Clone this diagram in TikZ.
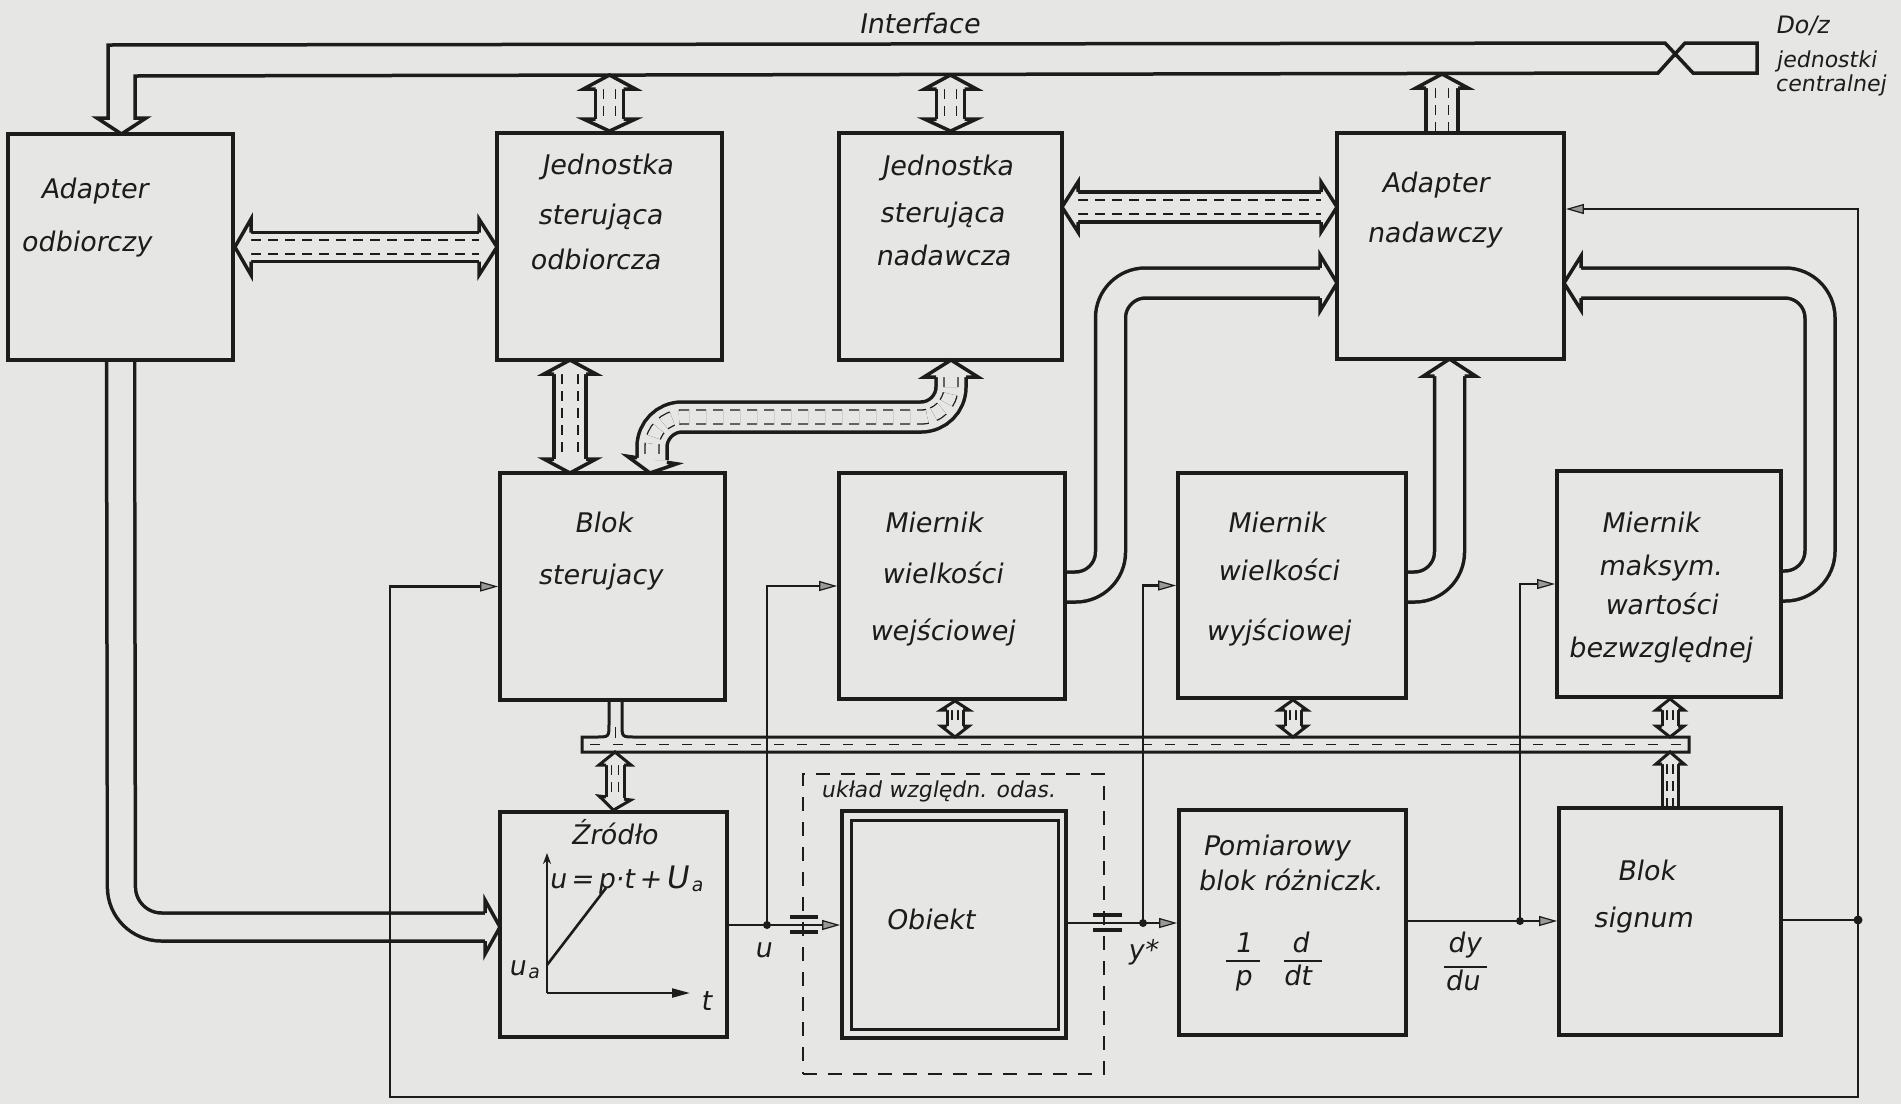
\documentclass[tikz,border=0pt]{standalone}
\usepackage{fontspec}
\setmainfont{DejaVu Sans}
\newfontfamily\hand{DejaVu Sans}[FakeSlant=0.17]
\usetikzlibrary{arrows.meta,calc}
\definecolor{bg}{RGB}{230,230,228}
\definecolor{ink}{RGB}{28,28,28}
\pgfdeclarelayer{under}
\pgfsetlayers{under,main}
% hollow fat arrow head: #1 base centre, #2 tip, #3 half shaft, #4 half head, #5 line width
\newcommand\FatHead[5]{\path[fill=bg,draw=ink,line width=#5,line join=miter] ($#1!#3!90:#2$) -- ($#1!#4!90:#2$) -- #2 -- ($#1!#4!-90:#2$) -- ($#1!#3!-90:#2$);}
\begin{document}
\begin{tikzpicture}[x=1pt,y=-1pt,line join=miter,
  blk/.style={draw=ink,line width=3.8pt,inner sep=0pt},
  lbl/.style={font=\hand\fontsize{27}{30}\selectfont,inner sep=0pt,text height=19pt,text depth=5pt,text=ink},
  sml/.style={font=\hand\fontsize{22}{26}\selectfont,inner sep=0pt,text height=16pt,text depth=4pt,text=ink},
  pipe/.style={draw=ink,line width=3.5pt,double=bg,double distance=#1},
  spipe/.style={draw=ink,line width=3pt,double=bg,double distance=#1},
  dpipe/.style={draw=ink,line width=1.3pt,double=bg,double distance=#1,dash pattern=on 10pt off 7pt},
  sig/.style={draw=ink,line width=2.8pt},
  >={Triangle[length=18pt,width=10pt,fill=ink!45,line width=1.2pt]}]
\useasboundingbox (0,0) rectangle (1901,1104);

% ---------------- boxes ----------------
\node[blk,minimum width=225pt,minimum height=226pt] (ao) at (120.5,247) {};
\node[blk,minimum width=225pt,minimum height=227pt] (jso) at (609.5,246.5) {};
\node[blk,minimum width=223pt,minimum height=227pt] (jsn) at (950.5,246.5) {};
\node[blk,minimum width=227pt,minimum height=226pt] (an) at (1450.5,246) {};
\node[blk,minimum width=225pt,minimum height=227pt] (bs) at (612.5,586.5) {};
\node[blk,minimum width=226pt,minimum height=226pt] (mwe) at (952,586) {};
\node[blk,minimum width=228pt,minimum height=225pt] (mwy) at (1292,585.5) {};
\node[blk,minimum width=224pt,minimum height=226pt] (mmx) at (1669,584) {};
\node[blk,minimum width=227pt,minimum height=225pt] (zr) at (613.5,924.5) {};
\node[blk,minimum width=224pt,minimum height=227pt] (ob) at (954,924.5) {};
\node[draw=ink,line width=3pt,inner sep=0pt,minimum width=207pt,minimum height=209pt] (obi) at (954.5,924.5) {};
\node[blk,minimum width=227pt,minimum height=225pt] (pb) at (1292.5,922.5) {};
\node[blk,minimum width=222pt,minimum height=227pt] (sg) at (1670,921.5) {};
\node[draw=ink,line width=2.5pt,dash pattern=on 14pt off 11pt,inner sep=0pt,minimum width=301pt,minimum height=300pt] (uk) at (953.5,924) {};

% junction coordinates
\coordinate (ju) at (767,925);
\coordinate (jy) at (1143,923);
\coordinate (jd) at (1520,921);
\coordinate (jo) at (1858,920);
\coordinate (fbt) at (1858,209);
\coordinate (fbb) at (1858,1097);
\coordinate (fbl) at (390,1097);

\begin{pgfonlayer}{under}
\fill[bg] (0,0) rectangle (1901,1104);

% ---------------- interface bus ----------------
\draw[draw=ink,line width=3.5pt] (121.5,134) -- (97,118) -- (108,118) -- (108,45) -- (1665,43) -- (1693,73)
  -- (1757,73) -- (1757,43) -- (1685,43) -- (1658,73) -- (135,76) -- (135,118) -- (146,118) -- cycle;

% interface <-> Jednostka sterujaca odbiorcza
\draw[pipe=24.5pt] (609.5,89) -- (609.5,119);
\draw[dpipe=10.7pt] (609.5,89) -- (609.5,119);
\FatHead{(609.5,89)}{(609.5,75)}{14pt}{26pt}{3.5pt}
\FatHead{(609.5,119)}{(jso.north)}{14pt}{26pt}{3.5pt}
% interface <-> Jednostka sterujaca nadawcza
\draw[pipe=24.5pt] (950.5,89) -- (950.5,119);
\draw[dpipe=10.7pt] (950.5,89) -- (950.5,119);
\FatHead{(950.5,89)}{(950.5,75)}{14pt}{26pt}{3.5pt}
\FatHead{(950.5,119)}{(jsn.north)}{14pt}{26pt}{3.5pt}
% Adapter nadawczy -> interface
\draw[pipe=28.5pt] (1442,88) -- (1442,133);
\draw[dpipe=11.7pt] (1442,88) -- (1442,133);
\FatHead{(1442,88)}{(1442,74)}{16pt}{26pt}{3.5pt}

% Adapter odbiorczy <-> Jednostka sterujaca odbiorcza
\draw[pipe=25.5pt] (251,247) -- (479,247);
\draw[dpipe=12.7pt] (251,247) -- (479,247);
\FatHead{(251,247)}{(ao.east)}{14.5pt}{28pt}{3.5pt}
\FatHead{(479,247)}{(497,247)}{14.5pt}{28pt}{3.5pt}
% Jednostka nadawcza <-> Adapter nadawczy
\draw[pipe=26.5pt] (1078,207) -- (1321,207);
\draw[dpipe=12.7pt] (1078,207) -- (1321,207);
\FatHead{(1078,207)}{(1062,207)}{15pt}{25pt}{3.5pt}
\FatHead{(1321,207)}{(1337,207)}{15pt}{25pt}{3.5pt}
% Jednostka odbiorcza <-> Blok sterujacy
\draw[pipe=28.5pt] (570,374) -- (570,459);
\draw[dpipe=14.7pt] (570,374) -- (570,459);
\FatHead{(570,374)}{(570,360)}{16pt}{26pt}{3.5pt}
\FatHead{(570,459)}{(570,473)}{16pt}{26pt}{3.5pt}
% Jednostka nadawcza <-> Blok sterujacy (S-shaped)
\draw[pipe=26.5pt,rounded corners=30pt] (951,377) -- (951,417) -- (652,417) -- (652,460);
\draw[dpipe=12.7pt,rounded corners=30pt] (951,377) -- (951,417) -- (652,417) -- (652,460);
\FatHead{(951,377)}{(951,360)}{15pt}{27pt}{3.5pt}
\FatHead{(652,460)}{(650,473)}{15pt}{25pt}{3.5pt}

% Adapter odbiorczy -> Zrodlo
\draw[pipe=24.5pt,rounded corners=40pt] (ao.south) -- (121.5,927) -- (485,927);
\FatHead{(485,927)}{(500,927)}{14pt}{27pt}{3.5pt}
% Miernik wejsciowej -> Adapter nadawczy
\draw[pipe=26.5pt,rounded corners=35pt] (1065,587) -- (1110.5,587) -- (1110.5,283) -- (1320,283);
\FatHead{(1320,283)}{(1337,283)}{15pt}{28pt}{3.5pt}
% Miernik wyjsciowej -> Adapter nadawczy
\draw[pipe=26.5pt,rounded corners=35pt] (1406,587) -- (1449.5,587) -- (1449.5,376);
\FatHead{(1449.5,376)}{(1449.5,359)}{15pt}{26pt}{3.5pt}
% Miernik maksym. -> Adapter nadawczy
\draw[pipe=26.5pt,rounded corners=35pt] (1781,586) -- (1820,586) -- (1820,283) -- (1581,283);
\FatHead{(1581,283)}{(1564,283)}{15pt}{27pt}{3.5pt}

% ---------------- internal bus ----------------
\draw[draw=ink,line width=3pt,fill=bg] (609,700) -- (609,724) .. controls (609,737) .. (596,737) -- (582,737) -- (582,752)
  -- (1689,752) -- (1689,737) -- (635,737) .. controls (622,737) .. (622,724) -- (622,700);
\draw[ink,line width=1.3pt,dash pattern=on 10pt off 13pt] (590,744.5) -- (1684,744.5);
\draw[ink,line width=1.3pt] (615.5,727) -- (615.5,738);
% bus <-> Zrodlo
\draw[spipe=15pt] (615,765) -- (615,798);
\draw[dpipe=5.7pt] (615,765) -- (615,798);
\FatHead{(615,765)}{(615,752)}{9pt}{16pt}{3pt}
\FatHead{(615,798)}{(zr.north)}{9pt}{16pt}{3pt}
% bus <-> Mierniki
\foreach \xx/\nn in {955/mwe,1293/mwy,1670/mmx}{
  \draw[spipe=13pt] (\xx,710) -- (\xx,726);
  \draw[dpipe=4.7pt] (\xx,710) -- (\xx,726);
  \FatHead{(\xx,710)}{(\xx,0 |- \nn.south)}{8pt}{14pt}{3pt}
  \FatHead{(\xx,726)}{(\xx,737)}{8pt}{14pt}{3pt}
}
% Blok signum -> bus
\draw[spipe=13pt] (1670,764) -- (sg.north);
\draw[dpipe=4.7pt] (1670,764) -- (1670,806);
\FatHead{(1670,764)}{(1670,752)}{8pt}{14pt}{3pt}

% ---------------- signal lines ----------------
\draw[sig,->] (zr.east |- ju) -- (ob.west |- ju);
\draw[sig,->] (ju) |- (mwe.west);
\draw[sig,->] (ob.east |- jy) -- (pb.west |- jy);
\draw[sig,->] (jy) |- (mwy.west);
\draw[sig,->] (pb.east |- jd) -- (sg.west |- jd);
\draw[sig,->] (jd) |- (mmx.west);
\draw[sig] (sg.east |- jo) -- (jo);
\draw[sig,<->] (an.east |- fbt) -- (fbt) -- (fbb) -- (fbl) |- (bs.west);
\fill[ink] (ju) circle (4pt) (jy) circle (4pt) (jd) circle (4pt) (jo) circle (4.5pt);
% plug symbols
\draw[ink,line width=4pt] (790,917) -- (818,917) (790,932) -- (818,932);
\draw[ink,line width=4pt] (1093,915) -- (1122,915) (1093,930) -- (1122,930);

% graph inside Zrodlo
\draw[ink,line width=2.2pt,-{Stealth[length=11pt,width=8pt]}] (547,993) -- (547,853);
\draw[ink,line width=2.2pt,-{Triangle[length=18pt,width=9pt]}] (547,993) -- (690,993);
\draw[ink,line width=2.6pt] (547,965) -- (606,888);
% fraction bars
\draw[ink,line width=2.4pt] (1226,961) -- (1260,961) (1284,961) -- (1322,961) (1444,967) -- (1487,967);
\end{pgfonlayer}

% ---------------- texts ----------------
\node[lbl] (t1) at (919,26) {Interface};
\node[sml,anchor=west,font=\hand\fontsize{24}{26}\selectfont] (t2) at (1775,27) {Do/z};
\node[sml,anchor=west] (t3) at (1776,61) {jednostki};
\node[sml,anchor=west] (t4) at (1775,85) {centralnej};
\node[lbl] (a1) at (94,191) {Adapter};
\node[lbl] (a2) at (86,244) {odbiorczy};
\node[lbl] (b1) at (607,167) {Jednostka};
\node[lbl] (b2) at (600,217) {sterująca};
\node[lbl] (b3) at (595,262) {odbiorcza};
\node[lbl] (c1) at (947,168) {Jednostka};
\node[lbl] (c2) at (942,215) {sterująca};
\node[lbl] (c3) at (943,258) {nadawcza};
\node[lbl] (d1) at (1435,185) {Adapter};
\node[lbl] (d2) at (1434,235) {nadawczy};
\node[lbl] (e1) at (603,525) {Blok};
\node[lbl] (e2) at (600,577) {sterujacy};
\node[lbl] (f1) at (933,525) {Miernik};
\node[lbl] (f2) at (942,576) {wielkości};
\node[lbl] (f3) at (942,633) {wejściowej};
\node[lbl] (g1) at (1276,525) {Miernik};
\node[lbl] (g2) at (1278,573) {wielkości};
\node[lbl] (g3) at (1278,633) {wyjściowej};
\node[lbl] (h1) at (1650,525) {Miernik};
\node[lbl] (h2) at (1660,568) {maksym.};
\node[lbl] (h3) at (1661,607) {wartości};
\node[lbl] (h4) at (1660,650) {bezwzględnej};
\node[lbl] (i1) at (614,837) {Źródło};
\node[lbl] (i2) at (626,881) {u\,=\,p·t\,+\,{\fontsize{31}{34}\selectfont U}\kern3pt\textsubscript{a}};
\node[lbl] (i3) at (524,968) {u\kern2pt\textsubscript{a}};
\node[lbl] (i4) at (706,1003) {t};
\node[sml] (k1) at (938,791) {układ względn. odas.};
\node[lbl] (k2) at (930,922) {Obiekt};
\node[lbl] (l1) at (763,950) {u};
\node[lbl] (l2) at (1142,952) {y*};
\node[lbl] (m1) at (1276,848) {Pomiarowy};
\node[lbl] (m2) at (1290,883) {blok różniczk.};
\node[lbl] (m3) at (1243,945) {1};
\node[lbl] (m4) at (1243,978) {p};
\node[lbl] (m5) at (1300,945) {d};
\node[lbl] (m6) at (1297,978) {dt};
\node[lbl] (n1) at (1464,945) {dy};
\node[lbl] (n2) at (1462,983) {du};
\node[lbl] (o1) at (1646,873) {Blok};
\node[lbl] (o2) at (1643,920) {signum};
\end{tikzpicture}
\end{document}
